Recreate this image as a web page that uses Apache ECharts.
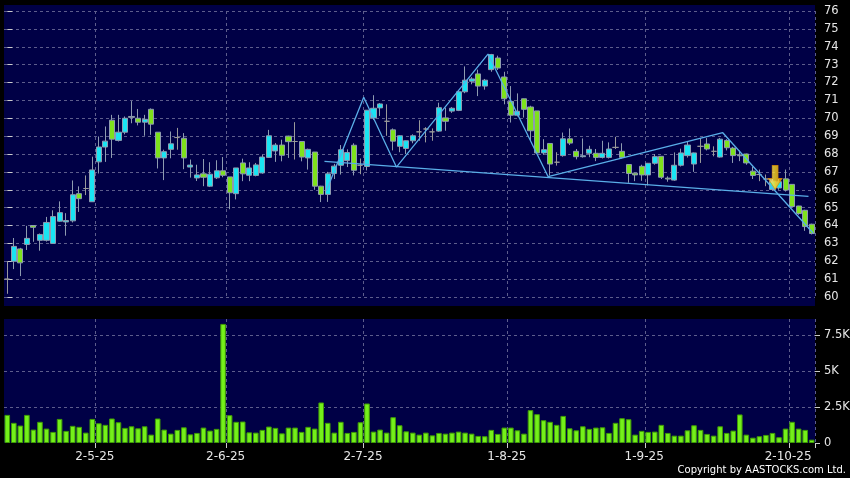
<!DOCTYPE html>
<html>
<head>
<meta charset="utf-8">
<script src="https://cdn.jsdelivr.net/npm/echarts@6/dist/echarts.min.js"></script>
<style>
html,body{margin:0;padding:0;background:#000;}
#chart{width:850px;height:478px;}
</style>
</head>
<body>
<div id="chart"></div>
<script>
// Trading days (HK), 2025
const aprDays = [9,10,11,14,15,16,17,22,23,24,25,28,29,30];
const mayDays = [2,6,7,8,9,12,13,14,15,16,19,20,21,22,23,26,27,28,29,30];
const junDays = [2,3,4,5,6,9,10,11,12,13,16,17,18,19,20,23,24,25,26,27,30];
const julDays = [2,3,4,7,8,9,10,11,14,15,16,17,18,21,22,23,24,25,28,29,30,31];
const augDays = [1,4,5,6,7,8,11,12,13,14,15,18,19,20,21,22,25,26,27,28,29];
const sepDays = [1,2,3,4,5,8,9,10,11,12,15,16,17,18,19,22,23,24,25,26,29,30];
const octDays = [2,3,6,8];

const opens = [61.0,62.0,62.69,62.94,64.0,63.17,63.17,63.0,64.24,64.2,64.26,65.78,66.07,65.33,67.56,68.39,69.89,68.76,69.22,70.1,
70.0,69.78,70.5,69.22,67.78,68.26,68.92,68.88,67.27,66.66,66.89,66.2,66.67,67.06,66.72,65.78,67.5,66.81,66.8,66.94,
67.81,68.17,68.5,69.0,68.7,68.7,67.78,68.11,66.2,65.74,66.91,67.37,67.63,68.49,67.37,67.3,70.02,70.58,69.83,69.35,
68.43,68.31,68.74,69.24,69.4,69.24,69.28,70.02,70.4,70.44,71.48,72.07,72.48,71.8,72.72,73.37,72.31,70.94,70.17,71.09,
70.63,70.41,68.06,68.59,67.54,67.91,68.85,68.15,67.85,68.04,68.04,67.81,67.81,68.37,68.15,67.41,66.93,67.31,66.83,67.48,
67.87,66.65,66.54,67.37,67.91,67.44,68.43,68.56,68.15,67.83,68.76,68.33,67.95,68.0,67.04,66.85,66.6,66.02,66.1,66.61,
66.3,65.09,64.85,64.07];
const closes = [61.0,62.83,61.91,63.28,63.9,63.5,64.17,64.5,64.72,64.28,65.72,65.5,66.07,67.11,68.39,68.72,68.83,69.22,70.0,70.05,
69.78,69.94,69.67,67.78,68.13,68.57,68.92,67.78,67.38,66.83,66.7,66.87,67.06,66.81,65.83,67.22,66.89,67.22,67.39,67.83,
69.02,68.5,67.93,68.69,68.7,67.83,68.26,66.2,65.74,66.89,67.32,68.24,68.08,67.09,67.37,70.45,70.56,70.8,69.83,68.72,
69.02,68.74,69.02,69.24,69.4,69.24,70.59,69.83,70.56,71.48,72.13,72.2,71.8,72.13,73.56,72.81,71.09,70.17,70.39,70.5,
69.3,68.06,68.24,67.44,67.54,68.85,68.61,67.85,67.9,68.26,67.81,68.04,68.28,68.37,67.81,66.91,66.83,66.83,67.48,67.85,
66.7,66.6,67.37,68.06,68.5,68.06,68.43,68.28,68.15,68.83,68.35,67.91,67.9,67.5,66.8,66.85,66.6,66.48,66.45,65.98,
65.06,64.67,63.94,63.55];
const lows = [60.18,61.56,61.17,62.63,63.09,62.59,63.1,63.0,64.2,63.43,64.17,64.76,65.7,65.33,66.91,67.56,67.78,68.7,69.1,69.72,
69.6,69.02,69.07,67.19,66.54,67.76,68.24,67.15,66.68,66.49,66.2,66.15,66.6,66.7,64.91,65.46,66.48,66.48,66.75,66.9,
67.78,67.56,67.59,67.78,67.69,67.59,67.13,66.0,65.31,65.32,66.6,66.85,67.27,66.8,66.87,67.08,69.9,70.13,69.02,68.2,
68.1,68.0,68.6,68.74,68.65,68.74,69.24,69.3,70.3,70.4,71.4,71.9,71.24,71.6,72.6,72.7,70.78,69.76,70.1,70.04,
68.74,68.0,67.95,66.8,67.35,67.85,68.5,67.7,67.8,67.82,67.6,67.75,67.75,68.28,67.75,66.39,66.48,66.5,66.24,67.4,
66.6,66.45,66.5,67.3,67.8,67.0,67.5,68.2,67.87,67.8,68.2,67.5,67.6,67.4,66.6,66.48,66.2,65.95,66.0,65.9,
65.0,64.6,63.7,63.5];
const highs = [62.0,63.3,62.75,63.98,64.02,63.55,64.48,64.85,65.35,64.69,66.52,66.19,66.8,67.85,68.98,69.54,70.19,70.19,70.1,70.96,
70.52,70.19,70.55,69.22,68.24,69.26,69.46,69.17,67.69,67.4,67.72,67.54,67.65,67.83,66.72,67.22,67.74,67.54,67.5,67.96,
69.35,68.61,68.8,69.02,69.78,68.72,68.3,68.11,66.22,67.0,67.45,68.5,68.26,68.6,67.75,70.46,71.29,70.85,70.78,69.43,
69.05,68.76,69.1,69.89,69.5,69.43,70.87,70.59,70.62,71.52,72.9,72.3,72.72,72.2,73.6,73.5,72.6,71.8,71.39,71.1,
70.7,70.41,68.83,68.6,68.1,69.2,69.43,68.28,68.87,68.46,68.28,68.74,68.65,68.96,68.6,67.41,66.95,67.4,67.5,68.0,
67.87,66.75,68.09,68.3,68.69,68.08,68.89,68.89,68.43,68.9,68.83,68.4,68.2,68.02,67.3,67.13,66.85,66.6,66.6,67.13,
66.32,65.1,64.88,64.1];
// volume in thousands
const volumesK = [1.95,1.40,1.21,1.95,0.93,1.47,1.00,0.77,1.67,0.84,1.19,1.12,0.72,1.67,1.37,1.26,1.70,1.44,1.05,1.16,
1.02,1.16,0.58,1.70,0.93,0.65,0.91,1.09,0.60,0.70,1.07,0.86,0.98,8.26,1.93,1.47,1.49,0.74,0.72,0.91,
1.14,1.05,0.67,1.07,1.07,0.77,1.12,1.00,2.81,1.40,0.72,1.47,0.70,0.77,1.44,2.74,0.79,0.93,0.72,1.79,
1.23,0.81,0.72,0.58,0.72,0.53,0.70,0.65,0.72,0.79,0.72,0.65,0.49,0.47,0.91,0.63,1.07,1.07,0.88,0.65,
2.28,2.00,1.58,1.47,1.26,1.88,1.02,0.88,1.16,0.98,1.07,1.09,0.70,1.40,1.72,1.65,0.58,0.84,0.77,0.79,
1.26,0.70,0.51,0.51,0.88,1.23,0.91,0.63,0.51,1.16,0.70,0.86,1.98,0.58,0.37,0.47,0.56,0.70,0.40,1.00,
1.47,1.00,0.91,0.23];
// pattern overlay (x in trading-day index, y in price)
const zigzagPts = [[48.8,65.95],[54.5,71.18],[59.5,67.27],[73.5,73.59],[82.7,66.73],[109.4,69.19],[123.2,63.58]];
const necklinePts = [[48.5,67.59],[122.5,65.63]];
const signalPts = [[117.4,66.69]];
const priceTicks = {min:60, max:76, step:1};
const volTicks = {min:0, max:8600, step:2500};

const months = [[4,aprDays],[5,mayDays],[6,junDays],[7,julDays],[8,augDays],[9,sepDays],[10,octDays]];
const dates = [];
const monthStart = new Set();
months.forEach(([m, days]) => {
  days.forEach((d, k) => {
    if (k === 0 && m !== 4) monthStart.add(dates.length);
    dates.push(d + '-' + m + '-25');
  });
});
const ohlc = opens.map((o, i) => [o, closes[i], lows[i], highs[i]]);
const volumes = volumesK.map(v => Math.round(v * 1000));

const GRID_LINE = {color: '#5d5d8c', type: [3, 3], width: 1};
const TXT = '#e6e6e6';
const FONT = 'DejaVu Sans';
const showFn = (i) => monthStart.has(i);

const chart = echarts.init(document.getElementById('chart'), null, {renderer: 'canvas'});
chart.setOption({
  backgroundColor: '#000000',
  animation: false,
  graphic: [
    {type: 'rect', z: -10, shape: {x: 4, y: 5, width: 811, height: 301}, style: {fill: '#000046'}},
    {type: 'rect', z: -10, shape: {x: 4, y: 319, width: 811, height: 124}, style: {fill: '#000046'}},
    {type: 'text', right: 4, top: 465, style: {text: 'Copyright by AASTOCKS.com Ltd.', fill: '#ffffff', font: '10px "DejaVu Sans"'}}
  ],
  grid: [
    {left: 4, right: 35, top: 11, height: 286, outerBoundsMode: 'none', containLabel: false},
    {left: 4, right: 35, top: 319, height: 124, outerBoundsMode: 'none', containLabel: false}
  ],
  xAxis: [
    {type: 'category', gridIndex: 0, data: dates, boundaryGap: true,
     axisLine: {show: false}, axisTick: {show: false}, axisLabel: {show: false},
     splitLine: {show: true, interval: showFn, lineStyle: GRID_LINE}},
    {type: 'category', gridIndex: 1, data: dates, boundaryGap: true,
     axisLine: {show: false},
     axisTick: {show: true, interval: showFn, length: 5, lineStyle: {color: '#cccccc'}},
     axisLabel: {show: true, interval: showFn, margin: 8, color: TXT, fontSize: 12, fontFamily: FONT,
       formatter: v => '{a|' + v + '}',
       rich: {a: {padding: [0, 8, 0, 0], color: TXT, fontSize: 12, fontFamily: FONT}}},
     splitLine: {show: true, interval: showFn, lineStyle: GRID_LINE}},
    {type: 'value', gridIndex: 0, min: -0.5, max: dates.length - 0.5, show: false}
  ],
  yAxis: [
    {type: 'value', gridIndex: 0, position: 'right', min: priceTicks.min, max: priceTicks.max, interval: priceTicks.step,
     axisLine: {show: false}, axisTick: {show: true, length: 5, lineStyle: {color: '#cccccc'}},
     axisLabel: {color: TXT, fontSize: 11.5, fontFamily: FONT, margin: 9},
     splitLine: {show: true, lineStyle: GRID_LINE}},
    {type: 'value', gridIndex: 1, position: 'right', min: volTicks.min, max: volTicks.max, interval: volTicks.step,
     axisLine: {show: false}, axisTick: {show: true, length: 5, lineStyle: {color: '#cccccc'}},
     axisLabel: {color: TXT, fontSize: 11.5, fontFamily: FONT, margin: 9, showMaxLabel: false,
       formatter: v => v === 0 ? '0' : (v / 1000) + 'K'},
     splitLine: {show: true, showMaxLine: false, showMinLine: false, lineStyle: GRID_LINE}}
  ],
  series: [
    {type: 'candlestick', xAxisIndex: 0, yAxisIndex: 0, data: ohlc, barWidth: 5.6,
     itemStyle: {color: '#19e4f3', color0: '#7ee21c', borderColor: '#8e9bb0', borderColor0: '#8e9bb0',
       borderColorDoji: '#9a9a9a', borderWidth: 1}},
    {type: 'bar', xAxisIndex: 1, yAxisIndex: 1, data: volumes, barWidth: 5.6,
     itemStyle: {color: '#74f01a', borderColor: '#3f9a06', borderWidth: 1}},
    {type: 'line', xAxisIndex: 2, yAxisIndex: 0, data: necklinePts, symbol: 'none', silent: true,
     lineStyle: {color: '#5aaee8', width: 1.3}, z: 5},
    {type: 'line', xAxisIndex: 2, yAxisIndex: 0, data: zigzagPts, symbol: 'none', silent: true,
     lineStyle: {color: '#5aaee8', width: 1.3}, z: 5},
    {type: 'scatter', xAxisIndex: 2, yAxisIndex: 0, data: signalPts, silent: true, z: 6,
     symbol: 'path://M4,0 L10,0 L10,12 L14,12 L7,22 L0,12 L4,12 Z', symbolSize: [14, 24],
     itemStyle: {color: {type: 'linear', x: 0, y: 0, x2: 1, y2: 0, colorStops: [
       {offset: 0, color: '#fff7b0'}, {offset: 0.45, color: '#ffdd22'}, {offset: 1, color: '#f5a800'}]},
       borderColor: '#d98a00', borderWidth: 0.8}}
  ]
});
</script>
</body>
</html>
